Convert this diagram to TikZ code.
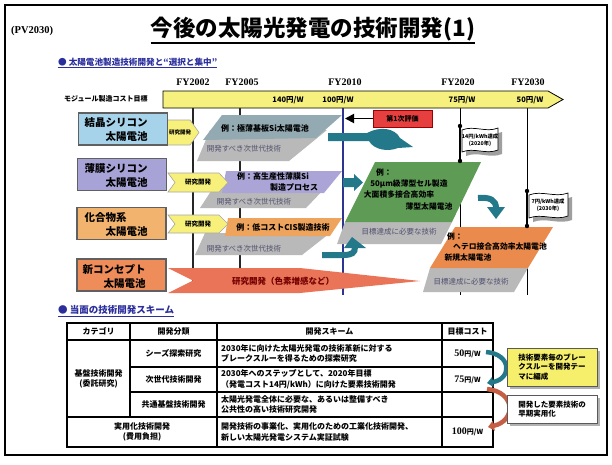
\documentclass[tikz,border=0pt]{standalone}
\usepackage{fontspec}
\setmainfont{Liberation Serif}
\newfontfamily\jp{Noto Sans CJK JP}
\usetikzlibrary{arrows.meta}
\newcommand\fsz[2]{\fontsize{#1}{#2}\selectfont}
\definecolor{hdblue}{HTML}{2B2F9C}
\definecolor{barY}{HTML}{F6F07E}
\definecolor{boxA}{HTML}{A6D3EA}
\definecolor{boxB}{HTML}{A7A3D6}
\definecolor{boxC}{HTML}{F2B36E}
\definecolor{boxD}{HTML}{EE8C5A}
\definecolor{slabA}{HTML}{93AAB2}
\definecolor{slabB}{HTML}{AAA5D6}
\definecolor{slabC}{HTML}{EEA45D}
\definecolor{grayS}{HTML}{B9B9B9}
\definecolor{greenS}{HTML}{5E9B55}
\definecolor{orS}{HTML}{EA8A4C}
\definecolor{spikeC}{HTML}{EA7458}
\definecolor{tealC}{HTML}{23798A}
\definecolor{navyL}{HTML}{2C3590}
\definecolor{chevY}{HTML}{F7F07A}
\definecolor{evalR}{HTML}{E5403F}
\definecolor{yelBox}{HTML}{F6EF6C}
\definecolor{redArc}{HTML}{C55E45}
\definecolor{grayTxt}{HTML}{505070}
\begin{document}
\begin{tikzpicture}[x=1pt,y=-1pt,every node/.style={inner sep=0pt},
  catbox/.style={draw=gray!75!black,line width=1.5pt,minimum width=89pt,minimum height=32pt},
  cattext/.style={font=\jp\bfseries\fsz{10.5}{14},align=left},
  chev/.style={fill=chevY,draw=gray!70,line width=0.6pt},
  chevtext/.style={font=\jp\bfseries\fsz{6.5}{7}},
  slabtext/.style={font=\jp\bfseries\fsz{8}{11},align=center},
  graytext/.style={font=\jp\fsz{7.5}{9},text=grayTxt},
  yearlbl/.style={font=\bfseries\fsz{10}{11}},
  costlbl/.style={font=\jp\bfseries\fsz{7.5}{8}},
  fyline/.style={line width=1.2pt,black!85},
  hdr/.style={font=\jp\bfseries\fsz{8.6}{10},text=hdblue,anchor=west},
  tcell/.style={font=\jp\bfseries\fsz{8}{10},align=center},
  tdesc/.style={font=\jp\bfseries\fsz{8}{10.5},align=left,anchor=west},
  flagtext/.style={font=\jp\bfseries\fsz{5.3}{6.8},align=center},
  notebox/.style={draw=gray!70!black,line width=0.8pt,minimum width=90pt,anchor=north west},
  notetext/.style={font=\jp\bfseries\fsz{7.5}{9.5},align=left}]
\useasboundingbox (0,0) rectangle (612,464);
\fill[white] (0,0) rectangle (612,464);
\draw[line width=2pt] (5,5) rectangle (607,455);

% title
\node[font=\bfseries\fsz{10.5}{12},anchor=west] (pv) at (11,31) {(PV2030)};
\node[font=\jp\bfseries\fsz{22.5}{26}] (title) at (313,29) {今後の太陽光発電の技術開発(1)};
\draw[line width=1.6pt] ([yshift=-2pt]title.south west) -- ([yshift=-2pt]title.south east);

% section 1 header
\node[hdr] (h1) at (58,62) {● 太陽電池製造技術開発と“選択と集中”};
\draw[hdblue,line width=0.8pt] ([yshift=-1.5pt]h1.south west) -- ([yshift=-1.5pt]h1.south east);

% years
\node[yearlbl] (fy02) at (193,82) {FY2002};
\node[yearlbl] (fy05) at (242,82) {FY2005};
\node[yearlbl] (fy10) at (345,82) {FY2010};
\node[yearlbl] (fy20) at (458,82) {FY2020};
\node[yearlbl] (fy30) at (528,82) {FY2030};

\node[font=\jp\bfseries\fsz{7}{8},anchor=west] (modlbl) at (64,99) {モジュール製造コスト目標};

% vertical time lines
\draw[fyline] (193,108) -- (193,293);
\draw[fyline] (240,108) -- (240,293);
\draw[navyL,line width=2pt] (343,108) -- (343,295);
\draw[line width=0.9pt] (460,108) -- (460,295);
\draw[line width=0.9pt] (527,108) -- (527,295);

% cost bar
\filldraw[fill=barY,draw=black,line width=0.8pt] (163,91) -- (548,91) -- (563,99.5) -- (548,108) -- (163,108) -- cycle;
\node[costlbl] (c140) at (288,100) {140円/W};
\node[costlbl] (c100) at (338,100) {100円/W};
\node[costlbl] (c75) at (462,100) {75円/W};
\node[costlbl] (c50) at (530,100) {50円/W};

% row 1 slabs
\fill[grayS] (210,130) -- (327,130) -- (289,161) -- (197,161) -- cycle;
\fill[slabA] (222,115) -- (342,115) -- (316,138) -- (203,140) -- cycle;
\node[slabtext] (s1) at (265,128) {例：極薄基板Si太陽電池};
\node[graytext] (g1) at (244,149) {開発すべき次世代技術};

% row 2 slabs
\fill[grayS] (215,185) -- (328,185) -- (306,208) -- (200,208) -- cycle;
\fill[slabB] (226,171) -- (342,171) -- (324,193) -- (222,193) -- cycle;
\node[slabtext] (s2a) at (273,176) {例：高生産性薄膜Si};
\node[slabtext] (s2b) at (294,187) {製造プロセス};
\node[graytext] (g2) at (254,202) {開発すべき次世代技術};

% row 3 slabs
\fill[grayS] (205,233) -- (330,233) -- (302,255) -- (195,255) -- cycle;
\fill[slabC] (228,218) -- (342,218) -- (330,236) -- (225,236) -- cycle;
\node[slabtext] (s3) at (283,227) {例：低コストCIS製造技術};
\node[graytext] (g3) at (244,249) {開発すべき次世代技術};

% row 4 spike
\fill[spikeC] (168,268) -- (300,268) -- (420,281) -- (300,293) -- (168,293) -- (193,280.5) -- cycle;
\node[font=\jp\bfseries\fsz{8.5}{10},text=red!45!black] (s4) at (283,281) {研究開発（色素増感など）};

% middle green slab
\fill[grayS] (345,222) -- (452,222) -- (441,244) -- (337,244) -- cycle;
\fill[greenS] (375,162) -- (481,162) -- (452,222) -- (345,222) -- cycle;
\node[slabtext,font=\jp\bfseries\fsz{7.8}{10}] (gr1) at (384,173) {例：};
\node[slabtext,font=\jp\bfseries\fsz{7.8}{10}] (gr2) at (409,184) {50μm級薄型セル製造};
\node[slabtext,font=\jp\bfseries\fsz{7.8}{10}] (gr3) at (399,195) {大面積多接合高効率};
\node[slabtext,font=\jp\bfseries\fsz{7.8}{10}] (gr4) at (429,207) {薄型太陽電池};
\node[graytext] (g5) at (399,232) {目標達成に必要な技術};

% right orange slab
\fill[grayS] (430,268) -- (528,268) -- (514,292) -- (423,292) -- cycle;
\fill[orS] (455,227) -- (553,227) -- (528,268) -- (430,268) -- cycle;
\node[slabtext,font=\jp\bfseries\fsz{7.8}{10}] (or1) at (455,237) {例：};
\node[slabtext,font=\jp\bfseries\fsz{7.8}{10}] (or2) at (500,247) {ヘテロ接合高効率太陽電池};
\node[slabtext,font=\jp\bfseries\fsz{7.8}{10}] (or3) at (468,258) {新規太陽電池};
\node[graytext] (g6) at (471,282) {目標達成に必要な技術};

% chevrons
\filldraw[chev] (158,120) -- (190,120) -- (199,132.5) -- (190,145) -- (158,145) -- (166,132.5) -- cycle;
\node[chevtext,font=\jp\bfseries\fsz{5.5}{6}] (ch1) at (180,132.5) {研究開発};
\filldraw[chev] (168,173) -- (219,173) -- (228,182.5) -- (219,192) -- (168,192) -- (175,182.5) -- cycle;
\node[chevtext] (ch2) at (198,182.5) {研究開発};
\filldraw[chev] (168,215) -- (219,215) -- (228,224) -- (219,233) -- (168,233) -- (175,224) -- cycle;
\node[chevtext] (ch3) at (198,224) {研究開発};

% category boxes
\node[catbox,fill=boxA] (b1) at (123,129) {};
\node[cattext] (t1) at (116,130) {結晶シリコン\\\hspace*{2em}太陽電池};
\node[catbox,fill=boxB] (b2) at (122,174.5) {};
\node[cattext] (t2) at (116,175.5) {薄膜シリコン\\\hspace*{2em}太陽電池};
\node[catbox,fill=boxC] (b3) at (121.5,223.5) {};
\node[cattext] (t3) at (116,224.5) {化合物系\hspace*{2em}\\\hspace*{2em}太陽電池};
\node[catbox,fill=boxD] (b4) at (121.5,275) {};
\node[cattext] (t4) at (114,276) {新コンセプト\\\hspace*{2em}太陽電池};

% first evaluation
\node[fill=evalR,draw=red!60!black,line width=0.5pt,minimum width=59pt,minimum height=17pt,font=\jp\bfseries\fsz{7}{8}] (eval) at (402.5,118.5) {第1次評価};
\coordinate (evtip) at (345,118.5);
\draw[line width=1.8pt,-{Triangle[width=9pt,length=9pt]}] (eval.west) -- (evtip);

% teal arrows
\fill[tealC] (328,133) -- (367,133) .. controls (380,126) and (395,128) .. (400,138) -- (413,147) -- (398,148) .. controls (388,152) and (374,150) .. (369,141) -- (328,141) -- cycle;
\fill[tealC] (343,178) -- (354,178) -- (354,174) -- (363,182.5) -- (354,191) -- (354,187) -- (343,187) -- cycle;
\draw[tealC,line width=6pt] (322,255) -- (343,255) .. controls (352,255) and (355,253) .. (355,247);
\fill[tealC] (344,248) -- (366,248) -- (352,237) -- cycle;
\draw[tealC,line width=6pt] (478,198) .. controls (490,197) and (496,200) .. (496,208);
\fill[tealC] (487,207) -- (505,207) -- (496,219) -- cycle;

% flags
\draw[line width=2.2pt] (460,125) -- (460,162);
\fill (460,126) circle (2.2) (460,161) circle (2.2);
\fill[gray!75] (466,134) .. controls (478,129) and (490,137) .. (502,132) -- (502,154) .. controls (490,159) and (478,151) .. (466,156) -- cycle;
\filldraw[fill=white,draw=black,line width=0.7pt] (462,130) .. controls (474,125) and (486,133) .. (498,128) -- (498,150) .. controls (486,155) and (474,147) .. (462,152) -- cycle;
\node[flagtext] (f1) at (480,140) {14円/kWh達成\\(2020年)};
\draw[line width=2.2pt] (527,190) -- (527,227);
\fill (527,191) circle (2.2) (527,226) circle (2.2);
\fill[gray!75] (533,199) .. controls (546,194) and (559,202) .. (572,197) -- (572,220) .. controls (559,225) and (546,217) .. (533,222) -- cycle;
\filldraw[fill=white,draw=black,line width=0.7pt] (529,195) .. controls (542,190) and (555,198) .. (568,193) -- (568,216) .. controls (555,221) and (542,213) .. (529,218) -- cycle;
\node[flagtext] (f2) at (548,205.5) {7円/kWh達成\\(2030年)};

% section 2 header
\node[hdr,font=\jp\bfseries\fsz{9.5}{11}] (h2) at (58,310) {● 当面の技術開発スキーム};
\draw[hdblue,line width=0.8pt] ([yshift=-1.5pt]h2.south west) -- ([yshift=-1.5pt]h2.south east);

% table
\fill[white] (67,323) rectangle (493,447);
\draw[line width=1.2pt] (67,340) -- (493,340);
\draw[line width=1.2pt] (130,367) -- (493,367);
\draw[line width=1.2pt] (130,392) -- (493,392);
\draw[line width=1.2pt] (67,417) -- (493,417);
\draw[line width=1.2pt] (130,323) -- (130,417);
\draw[line width=1.2pt] (217,323) -- (217,447);
\draw[line width=1.2pt] (442,323) -- (442,447);
\draw[line width=2pt] (67,323) rectangle (493,447);

\node[tcell] (hc1) at (98.5,331.5) {カテゴリ};
\node[tcell] (hc2) at (173.5,331.5) {開発分類};
\node[tcell] (hc3) at (329.5,331.5) {開発スキーム};
\node[tcell] (hc4) at (467.5,331.5) {目標コスト};

\node[tcell] (cat1) at (98.5,379) {基盤技術開発\\(委託研究)};
\node[tcell] (cat2) at (142,432) {実用化技術開発\\(費用負担)};
\node[tcell] (d1) at (173.5,353.5) {シーズ探索研究};
\node[tcell] (d2) at (173.5,379.5) {次世代技術開発};
\node[tcell] (d3) at (173.5,404.5) {共通基盤技術開発};

\node[tdesc] (e1) at (221,353.5) {2030年に向けた太陽光発電の技術革新に対する\\ブレークスルーを得るための探索研究};
\node[tdesc] (e2) at (221,379.5) {2030年へのステップとして、2020年目標\\（発電コスト14円/kWh）に向けた要素技術開発};
\node[tdesc] (e3) at (221,404.5) {太陽光発電全体に必要な、あるいは整備すべき\\公共性の高い技術研究開発};
\node[tdesc] (e4) at (221,432) {開発技術の事業化、実用化のための工業化技術開発、\\新しい太陽光発電システム実証試験};

\node (k50) at (467.5,354) {{\bfseries\fsz{10}{12}50}{\jp\bfseries\fsz{7}{8}円/W}};
\node (k75) at (467.5,380) {{\bfseries\fsz{10}{12}75}{\jp\bfseries\fsz{7}{8}円/W}};
\node (k100) at (467.5,432) {{\bfseries\fsz{10}{12}100}{\jp\bfseries\fsz{7}{8}円/W}};

% right arcs
\coordinate (a1s) at (486,352);
\coordinate (a1e) at (487,383);
\coordinate (a2s) at (487,389);
\coordinate (a2e) at (488,427);
\draw[tealC,line width=4.5pt,-{Triangle[width=10pt,length=6pt]}] (a1s) .. controls (512,354) and (512,379) .. (a1e);
\draw[redArc,line width=4.5pt,-{Triangle[width=10pt,length=6pt]}] (a2s) .. controls (516,392) and (516,421) .. (a2e);

% note boxes
\fill[gray!60] (510,351) rectangle (600,389);
\node[notebox,fill=yelBox,minimum height=38pt] (n1) at (507,348) {};
\node[notetext] (n1t) at (552,367) {技術要素毎のブレー\\クスルーを開発テー\\マに編成};
\fill[gray!60] (510,398) rectangle (600,426);
\node[notebox,fill=white,minimum height=28pt] (n2) at (507,395) {};
\node[notetext] (n2t) at (552,409) {開発した要素技術の\\早期実用化};
\end{tikzpicture}
\end{document}
